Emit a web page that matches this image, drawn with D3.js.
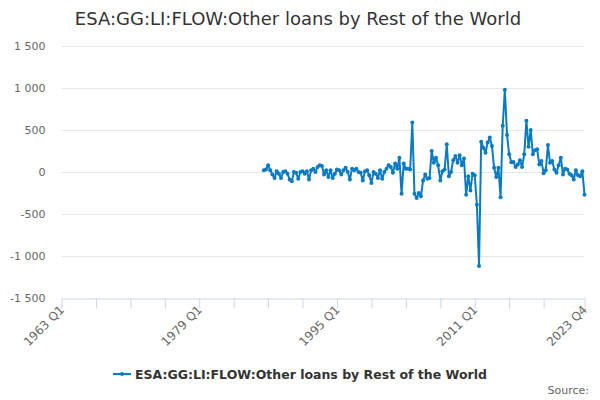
<!DOCTYPE html>
<html>
<head>
<meta charset="utf-8">
<script src="https://cdn.jsdelivr.net/npm/d3@7/dist/d3.min.js"></script>
<style>
  html, body { margin: 0; padding: 0; background: #fff; }
  svg { display: block; font-family: "DejaVu Sans", Verdana, Arial, sans-serif; }
</style>
</head>
<body>
<div id="chart"></div>
<script>
// ---- data ----
const seriesName = "ESA:GG:LI:FLOW:Other loans by Rest of the World";
const axisStart = { year: 1963, quarter: 1 };
const axisEnd = { year: 2023, quarter: 4 };
const seriesStart = { year: 1986, quarter: 3 };
const seriesValues = [
  20, 30,
  80, 20, -30, -70,
  10, -20, -70, 0,
  10, -20, -90, -110,
  0, -10, -80, 0,
  10, -20, 10, -90,
  20, 40, 0, 60,
  80, 70, -30, 20,
  -60, 20, -70, -20,
  30, 20, -30, 20,
  50, 0, -90, 40,
  20, 40, 0, -10,
  -100, 10, 20, -40,
  -130, 0, -20, -70,
  20, -80, 0, 40,
  80, 60, -10, 100,
  40, 170, -260, 100,
  40, 40, 30, 590,
  -260, -310, -250, -290,
  -100, -30, -80, -70,
  250, 110, 170, 80,
  -100, 10, 30, 330,
  -50, 0, 140, 190,
  110, 200, 80, 160,
  -270, -50, -220, -20,
  -40, -390, -1120, 360,
  290, 230, 350, 410,
  310, 50, -60, 50,
  -300, 550, 980, 440,
  210, 115, 120, 60,
  90, 140, 60, 210,
  610, 300, 500, 210,
  260, 270, 90, 130,
  -15, 20, 320, 110,
  130, 30, -10, 80,
  170, -30, 40, 30,
  -20, -40, -90, 20,
  -40, -50, 10, -270
];
const yTicks = [-1500, -1000, -500, 0, 500, 1000, 1500];
const xTickLabels = ["1963 Q1", "1979 Q1", "1995 Q1", "2011 Q1", "2023 Q4"];
const sourceText = "Source:";

// ---- helpers ----
const qIndex = (y, q) => (y - axisStart.year) * 4 + (q - 1);
const labelToIndex = s => { const [y, q] = s.split(" Q"); return qIndex(+y, +q); };
const startIdx = qIndex(seriesStart.year, seriesStart.quarter);
const endIdx = qIndex(axisEnd.year, axisEnd.quarter);
const points = seriesValues.map((v, k) => ({ i: startIdx + k, v }));

// ---- layout ----
const W = 600, H = 400;
const m = { left: 61.5, right: 584.5, top: 46, bottom: 298 };
const svg = d3.select("#chart").append("svg").attr("width", W).attr("height", H);

const x = d3.scaleLinear().domain([0, endIdx]).range([m.left, m.right]);
const y = d3.scaleLinear().domain([-1500, 1500]).range([m.bottom, m.top]);

const fmt = v => d3.format(",")(v).replace(/,/g, " ").replace("−", "-");

// title
svg.append("text").attr("x", 298).attr("y", 25).attr("text-anchor", "middle")
  .attr("font-size", 18).attr("fill", "#333").text(seriesName);

// grid
svg.append("g").selectAll("line").data(yTicks.filter(t => t !== -1500)).join("line")
  .attr("x1", m.left).attr("x2", m.right)
  .attr("y1", d => Math.round(y(d)) + 0.5).attr("y2", d => Math.round(y(d)) + 0.5)
  .attr("stroke", "#e6e6e6").attr("stroke-width", 1);

// y axis labels
const yAxis = d3.axisLeft(y).tickValues(yTicks).tickSize(0).tickPadding(0).tickFormat(fmt);
const gy = svg.append("g").attr("transform", `translate(${m.left - 16},0)`).call(yAxis);
gy.select(".domain").remove();
gy.selectAll("text").attr("font-size", 11).attr("fill", "#666")
  .attr("font-family", "DejaVu Sans, sans-serif");

// x axis
const tickVals = d3.range(0, 225, 16).concat([endIdx]);
const labelIdx = xTickLabels.map(labelToIndex);
const xAxis = d3.axisBottom(x).tickValues(tickVals).tickSize(10).tickSizeOuter(0)
  .tickFormat(d => { const k = labelIdx.indexOf(d); return k >= 0 ? xTickLabels[k] : ""; });
const gx = svg.append("g").attr("transform", `translate(0,${Math.round(y(-1500)) + 0.5})`).call(xAxis);
gx.select(".domain").attr("stroke", "#ccd6eb");
gx.selectAll(".tick line").attr("stroke", "#ccd6eb");
gx.selectAll("text").attr("font-size", 12).attr("fill", "#666")
  .attr("font-family", "DejaVu Sans, sans-serif")
  .attr("text-anchor", "end").attr("dy", null).attr("y", 0)
  .attr("transform", "translate(3,12) rotate(-45)");

// line
const line = d3.line().x(d => x(d.i)).y(d => y(d.v));
svg.append("path").datum(points).attr("d", line)
  .attr("fill", "none").attr("stroke", "#0a7bc1").attr("stroke-width", 2)
  .attr("stroke-linejoin", "round");
svg.append("g").selectAll("circle").data(points).join("circle")
  .attr("cx", d => x(d.i)).attr("cy", d => y(d.v)).attr("r", 2)
  .attr("fill", "#0a7bc1");

// legend
const lg = svg.append("g").attr("transform", "translate(113,374)");
lg.append("line").attr("x1", 0).attr("x2", 18).attr("y1", 0).attr("y2", 0)
  .attr("stroke", "#0a7bc1").attr("stroke-width", 2);
lg.append("circle").attr("cx", 9).attr("cy", 0).attr("r", 2).attr("fill", "#0a7bc1");
lg.append("text").attr("x", 22).attr("y", 4.5).attr("font-size", 12.5).attr("font-weight", "bold")
  .attr("fill", "#333").text(seriesName);

// source
svg.append("text").attr("x", 589).attr("y", 394).attr("text-anchor", "end")
  .attr("font-size", 11).attr("fill", "#666").text(sourceText);
</script>
</body>
</html>
